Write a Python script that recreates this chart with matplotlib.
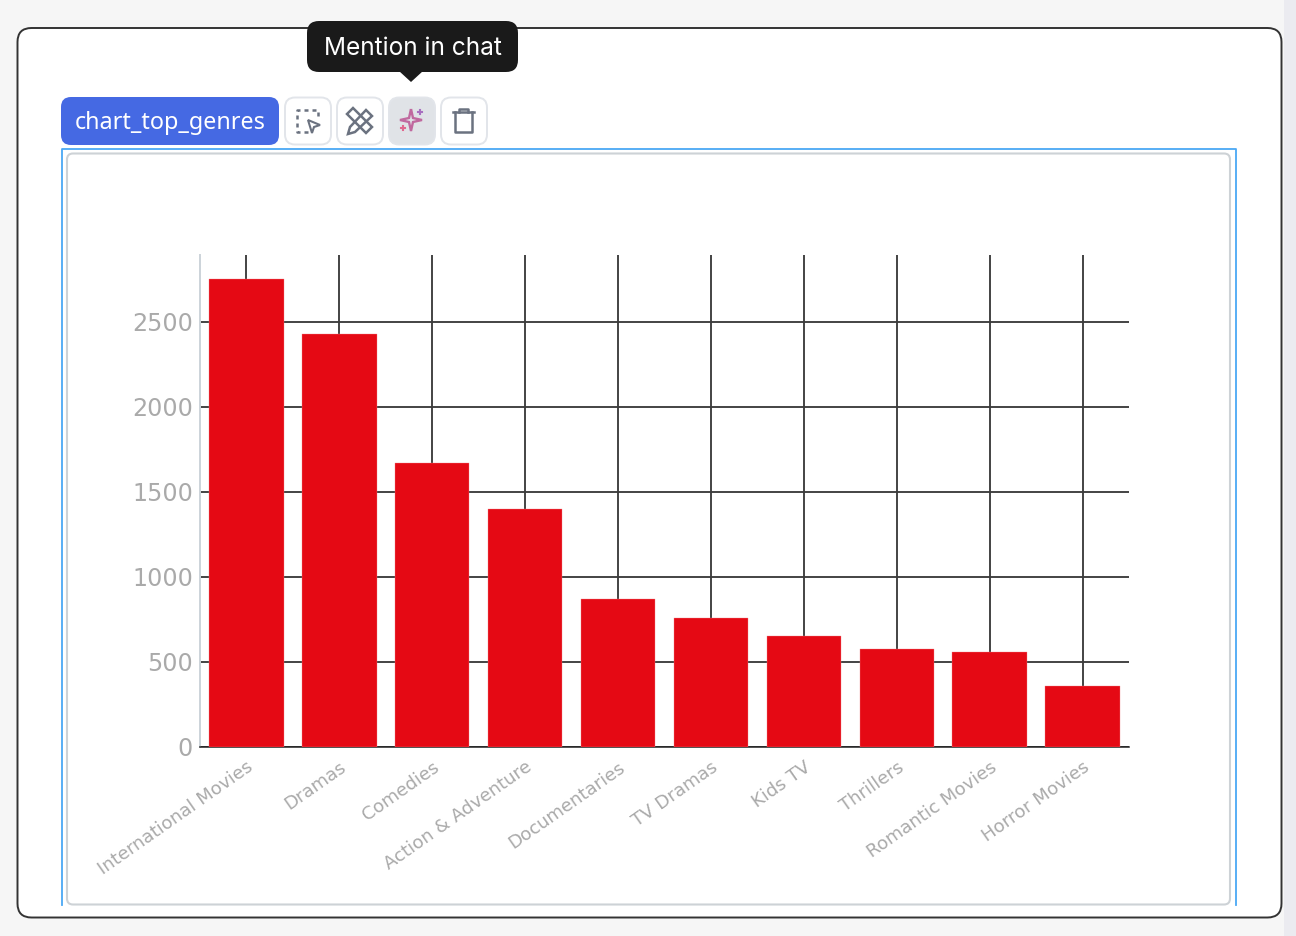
import matplotlib
matplotlib.use('Agg')
import matplotlib.pyplot as plt
from matplotlib.patches import FancyBboxPatch, Rectangle, Polygon, PathPatch
from matplotlib.path import Path
from matplotlib.transforms import ScaledTranslation

W, H = 1296, 936

genres = ['International Movies', 'Dramas', 'Comedies', 'Action & Adventure', 'Documentaries',
          'TV Dramas', 'Kids TV', 'Thrillers', 'Romantic Movies', 'Horror Movies']
counts = [2750, 2427, 1672, 1400, 868, 760, 650, 574, 556, 356]
y_ticks = [0, 500, 1000, 1500, 2000, 2500]
y_top = 2894

fig = plt.figure(figsize=(W / 100, H / 100), dpi=100, facecolor='#f6f6f6')

# page furniture, in pixel coordinates
bg = fig.add_axes([0, 0, 1, 1], zorder=0)
bg.set_xlim(0, W)
bg.set_ylim(H, 0)
bg.axis('off')


def rbox(ax, x0, y0, x1, y1, r, fc='none', ec='none', lw=1.0, z=1):
    p = FancyBboxPatch((x0 + r, y0 + r), x1 - x0 - 2 * r, y1 - y0 - 2 * r,
                       boxstyle='round,pad=%g,rounding_size=%g' % (r, r),
                       fc=fc, ec=ec, lw=lw, zorder=z)
    ax.add_patch(p)
    return p


bg.add_patch(Rectangle((1284, 0), 12, H, fc='#ebebf0', ec='none'))
rbox(bg, 17.5, 28, 1281.5, 917.5, 14, fc='white', ec='#333333', lw=1.4)

# inner chart frame, clipped at the bottom like a scrolled cell
bg.plot([62, 62, 1236, 1236], [905, 148.5, 148.5, 905], color='#4aa8f5', lw=1.3, zorder=2)
rbox(bg, 67, 153.5, 1230, 904.5, 6, fc='white', ec='#cdd2d6', lw=1.5, z=2)

# toolbar
rbox(bg, 61, 97, 279, 145, 10, fc='#4569e3', z=3)
bg.text(170, 123, 'chart_top_genres', color='white', fontsize=16.8, family='Noto Sans',
        ha='center', va='center', zorder=4, fontweight='medium')
for x0, fc in [(285, 'white'), (337, 'white'), (389, '#e0e3e7'), (441, 'white')]:
    rbox(bg, x0, 97.5, x0 + 46, 144.5, 10, fc=fc, ec='#e2e5ea', lw=1.4, z=3)

icon = '#6b7280'
# select icon
bg.plot([308, 297, 297, 318, 318], [132, 132, 110, 110, 120], color=icon, lw=1.8,
        ls=(0, (1.6, 1.6)), zorder=5)
bg.add_patch(Polygon([[308, 120], [320, 125], [314, 127], [312, 133]], closed=True, fc='none',
                     ec=icon, lw=1.5, zorder=5))
# pencil and ruler icon
bg.add_patch(Polygon([[350, 127], [366, 110], [372, 116], [355, 132], [348, 134]], closed=True,
                     fc='none', ec=icon, lw=1.8, zorder=5))
bg.add_patch(Polygon([[353, 108], [372, 127], [366, 133], [347, 114]], closed=True,
                     fc='none', ec=icon, lw=1.8, zorder=5))
# sparkle icon
verts = [(411, 109), (413, 118), (422, 120), (413, 122), (411, 131), (409, 122), (400, 120),
         (409, 118), (411, 109)]
bg.add_patch(PathPatch(Path(verts), fc='none', ec='#c0699f', lw=1.7, zorder=5))
bg.plot([418, 422], [112, 112], color='#a86fc0', lw=1.5, zorder=5)
bg.plot([420, 420], [110, 114], color='#a86fc0', lw=1.5, zorder=5)
bg.plot([401, 405], [128, 128], color='#e0688f', lw=1.5, zorder=5)
bg.plot([403, 403], [126, 130], color='#e0688f', lw=1.5, zorder=5)
# trash icon
bg.plot([453, 474], [112, 112], color=icon, lw=1.8, zorder=5)
bg.plot([459, 459, 468, 468], [112, 109, 109, 112], color=icon, lw=1.8, zorder=5)
bg.plot([455, 455, 472, 472], [112, 132, 132, 112], color=icon, lw=1.8, zorder=5)

# chart
ax = fig.add_axes([200 / W, 1 - 747 / H, 929 / W, 492 / H], zorder=1)
ax.patch.set_alpha(0)
x = list(range(len(genres)))
ax.bar(x, counts, width=0.8, color='#e50914', edgecolor='#f2858a', linewidth=0.25, zorder=3)
ax.set_xlim(-0.5, len(genres) - 0.5)
ax.set_ylim(0, y_top)
ax.set_xticks(x)
ax.set_xticklabels(genres, rotation=35, ha='right', va='top', rotation_mode='anchor',
                   fontsize=13.1, color='#aaaaaa', family='DejaVu Sans')
# labels sit a little left of the tick
shift = ScaledTranslation(-2 / 100, 0, fig.dpi_scale_trans)
for lab in ax.get_xticklabels():
    lab.set_transform(lab.get_transform() + shift)
ax.set_yticks(y_ticks)
ax.set_yticklabels([str(v) for v in y_ticks], fontsize=17.2, color='#aaaaaa', family='DejaVu Sans',
                   va='center_baseline')
ax.tick_params(axis='both', length=0)
ax.tick_params(axis='x', pad=8)
ax.tick_params(axis='y', pad=5)
ax.grid(True, color='#3c3c3c', lw=1.35, zorder=1)
ax.set_axisbelow(True)
for side in ['top', 'right']:
    ax.spines[side].set_visible(False)
ax.spines['left'].set_color('#ccd3d9')
ax.spines['left'].set_linewidth(1.4)
ax.spines['bottom'].set_color('#222222')
ax.spines['bottom'].set_linewidth(1.1)

# tooltip on top of everything
top = fig.add_axes([0, 0, 1, 1], zorder=2)
top.set_xlim(0, W)
top.set_ylim(H, 0)
top.axis('off')
rbox(top, 307, 21, 518, 72, 12, fc='#1a1a1a', z=6)
top.add_patch(Polygon([[399, 71], [423, 71], [411, 82]], closed=True, fc='#1a1a1a', ec='none', zorder=6))
top.text(412.5, 48.5, 'Mention in chat', color='white', fontsize=17.6, family='Inter',
         ha='center', va='center', zorder=7)

fig.savefig('out.png', dpi=100, facecolor=fig.get_facecolor())
